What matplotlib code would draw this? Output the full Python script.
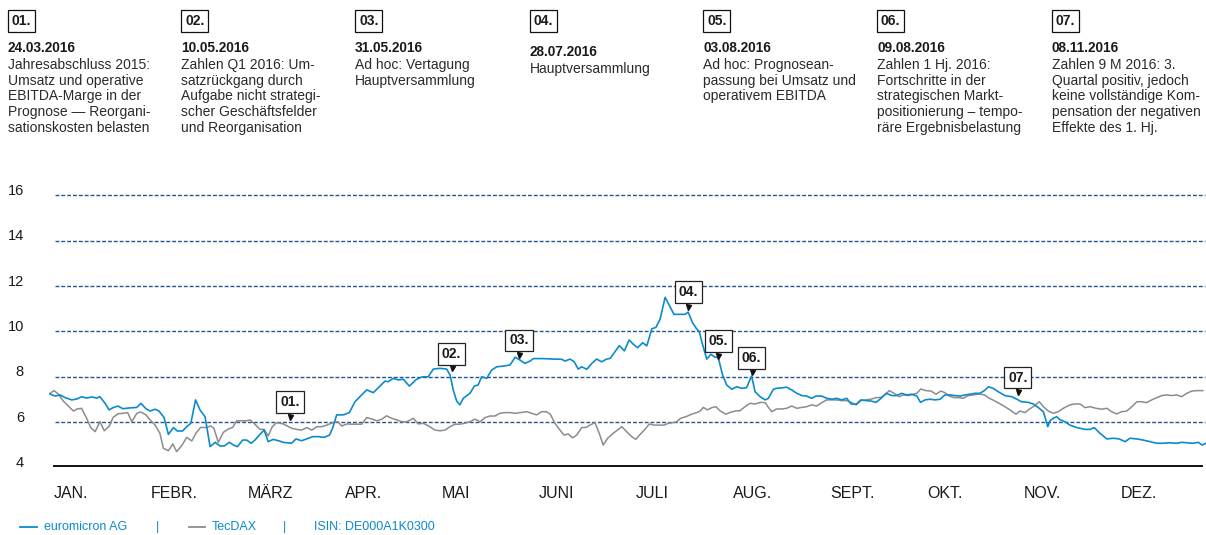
import matplotlib
matplotlib.use("Agg")
import matplotlib.pyplot as plt
import matplotlib.transforms as mtransforms
from matplotlib.lines import Line2D

plt.rcParams['font.family'] = ['Liberation Sans', 'DejaVu Sans']

# ---------------- data (x = day of year 2016, y = share price / index level) -------------
euromicron_days = [
    0.0, 1.6, 3.2, 4.8, 6.9, 8.5, 10.0, 11.6, 13.2, 14.8, 15.8, 17.4, 18.7, 20.0, 21.5, 23.1,
    24.7, 27.5, 28.8, 30.4, 31.7, 33.3, 34.5, 36.1, 37.5, 39.1, 40.3, 42.0, 43.3, 44.6, 46.1,
    47.5, 49.1, 50.7, 52.3, 53.8, 55.2, 56.8, 58.1, 59.4, 61.0, 62.3, 63.7, 64.9, 66.5, 67.8,
    69.1, 70.7, 72.6, 73.9, 76.5, 77.9, 79.7, 81.3, 83.2, 85.0, 86.9, 88.5, 89.5, 90.8, 92.9,
    94.8, 96.6, 98.7, 100.3, 102.4, 104.5, 106.1, 107.1, 108.7, 110.3, 111.9, 113.8, 116.1,
    118.0, 119.8, 121.4, 123.5, 125.6, 126.7, 127.7, 128.8, 129.8, 130.9, 133.0, 134.4, 135.6,
    136.7, 138.3, 139.9, 141.5, 143.6, 145.7, 147.3, 148.8, 150.4, 152.0, 153.1, 156.2, 159.4,
    162.1, 163.1, 164.7, 166.0, 167.3, 168.4, 170.0, 171.6, 173.1, 174.7, 176.3, 177.4, 178.9,
    180.3, 181.9, 183.4, 184.7, 186.1, 187.7, 189.0, 190.6, 191.9, 193.2, 194.8, 196.1, 197.6,
    199.5, 201.1, 202.1, 203.5, 204.8, 205.6, 206.7, 208.0, 209.3, 210.6, 211.6, 213.0, 214.3,
    215.9, 217.5, 219.1, 220.6, 222.2, 223.3, 224.9, 226.5, 227.5, 229.1, 230.1, 231.7, 233.3,
    234.9, 236.5, 238.1, 239.6, 241.2, 242.6, 244.4, 246.0, 247.6, 249.1, 250.7, 252.3, 253.7,
    255.3, 256.8, 258.4, 260.0, 261.6, 263.2, 264.8, 266.6, 268.1, 269.7, 271.3, 272.9, 274.5,
    275.7, 277.1, 278.7, 280.3, 281.9, 283.4, 285.0, 286.6, 288.2, 289.8, 291.4, 292.9, 294.5,
    295.9, 297.2, 298.7, 300.3, 302.4, 304.6, 306.2, 307.7, 309.8, 311.4, 313.0, 314.6, 316.0,
    316.7, 317.7, 318.8, 319.9, 321.4, 323.0, 325.2, 327.8, 329.4, 330.7, 332.5, 334.7, 336.7,
    338.6, 340.5, 342.0, 344.2, 346.2, 348.4, 350.5, 352.6, 354.7, 356.8, 358.4, 360.0, 362.1,
    363.7, 364.9, 366.1]
euromicron_values = [
    7.24, 7.15, 7.20, 7.08, 6.98, 7.02, 7.12, 7.06, 7.11, 7.06, 7.12, 6.84, 6.54, 6.64, 6.71, 6.59,
    6.62, 6.65, 6.83, 6.59, 6.49, 6.57, 6.49, 6.21, 5.46, 5.76, 5.61, 5.61, 5.80, 5.95, 6.98,
    6.54, 6.24, 4.92, 5.11, 4.95, 4.95, 5.11, 4.99, 4.92, 5.21, 5.21, 5.07, 5.21, 5.46, 5.65,
    5.14, 5.24, 5.17, 5.11, 5.07, 5.26, 5.18, 5.26, 5.36, 5.36, 5.33, 5.43, 5.73, 6.32, 6.32,
    6.42, 6.90, 7.20, 7.42, 7.30, 7.59, 7.81, 7.78, 7.93, 7.86, 7.89, 7.59, 7.89,
    8.00, 8.00, 8.34, 8.37, 8.34, 8.08, 7.42, 6.93, 6.76, 7.05, 7.27, 7.59, 7.64,
    8.00, 7.93, 8.30, 8.44, 8.47, 8.52, 8.86, 8.74, 8.59, 8.69, 8.80, 8.80, 8.78,
    8.77, 8.69, 8.78, 8.66, 8.34, 8.44, 8.33, 8.59, 8.78, 8.66, 8.78, 8.81, 9.10,
    9.37, 9.14, 9.62, 9.44, 9.28, 9.50, 9.36, 10.11, 10.18, 10.53, 11.50, 11.16, 10.75,
    10.75, 10.75, 10.85, 10.38, 10.11, 9.99, 9.40, 8.78, 8.99, 8.86, 8.86, 8.08, 7.64,
    7.45, 7.56, 7.49, 7.52, 8.03, 7.34, 7.12, 6.98, 7.05, 7.45, 7.49, 7.51, 7.54,
    7.42, 7.27, 7.17, 7.15, 7.05, 7.15, 7.15, 7.05, 7.01, 7.05, 6.98, 7.05, 6.80,
    6.79, 6.98, 6.95, 6.93, 6.87, 7.05, 7.27, 7.17, 7.17, 7.27, 7.20, 7.23, 7.15,
    6.87, 6.98, 7.01, 6.98, 7.01, 7.20, 7.20, 7.17, 7.15, 7.20, 7.23, 7.27, 7.27,
    7.39, 7.56, 7.49, 7.34, 7.17, 7.12, 7.01, 6.90, 6.87, 6.80, 6.64, 6.46, 5.80,
    6.06, 6.17, 6.24, 6.10, 6.02, 5.87, 5.76, 5.68, 5.68, 5.76, 5.51, 5.26, 5.29,
    5.26, 5.14, 5.29, 5.26, 5.21, 5.14, 5.07, 5.07, 5.09, 5.07, 5.11, 5.09, 5.07,
    5.11, 4.99, 5.07]

tecdax_days = [
    0.0, 1.3, 2.6, 4.2, 5.8, 7.4, 8.6, 10.0, 11.6, 12.9, 14.3, 15.8, 17.2, 18.8, 20.0, 21.6,
    23.2, 24.6, 25.9, 27.5, 28.7, 30.4, 31.7, 33.3, 34.8, 35.9, 37.5, 38.9, 40.1, 41.7, 43.3,
    44.9, 46.2, 47.7, 49.3, 50.9, 51.9, 53.3, 54.9, 56.5, 57.9, 59.1, 60.7, 62.3, 63.3, 64.9,
    66.5, 67.8, 69.1, 70.4, 71.8, 73.9, 76.5, 78.1, 79.7, 81.3, 82.9, 84.5, 86.0, 87.1, 88.5,
    89.7, 91.1, 92.4, 94.0, 95.5, 97.1, 98.7, 100.3, 101.9, 103.5, 105.1, 106.6, 108.2, 109.8,
    111.4, 113.0, 115.1, 116.6, 118.2, 119.8, 121.9, 123.5, 125.1, 126.7, 128.3, 129.8, 131.4,
    133.0, 134.6, 136.2, 137.8, 139.3, 140.9, 142.5, 144.1, 145.7, 147.3, 149.4, 151.0, 152.6,
    154.1, 155.7, 157.1, 158.4, 159.9, 161.5, 162.8, 164.1, 165.5, 166.8, 168.4, 169.8, 171.0,
    172.6, 174.0, 175.2, 176.6, 178.4, 179.7, 181.1, 182.6, 184.0, 185.5, 186.9, 188.4, 189.8,
    191.3, 193.0, 194.5, 195.8, 197.4, 198.5, 199.7, 201.4, 203.2, 204.8, 205.9, 206.9, 208.2,
    209.6, 210.9, 212.2, 214.1, 215.4, 217.3, 218.5, 220.1, 221.7, 223.3, 224.9, 226.5, 227.5,
    228.6, 230.1, 231.7, 233.3, 234.9, 236.5, 238.1, 239.6, 241.2, 242.8, 244.4, 246.0, 247.6,
    249.1, 250.7, 252.3, 253.9, 255.3, 256.8, 258.4, 260.0, 261.6, 263.2, 264.4, 265.8, 267.3,
    269.0, 270.2, 271.8, 273.4, 274.5, 275.8, 277.4, 279.0, 280.6, 282.1, 283.4, 284.8, 286.3,
    287.9, 289.2, 290.8, 292.4, 294.3, 295.9, 297.5, 299.0, 300.6, 302.4, 304.0, 305.9, 307.2,
    308.8, 310.1, 311.7, 313.3, 314.6, 316.2, 317.7, 319.3, 320.9, 323.0, 324.6, 326.2, 327.8,
    329.4, 331.3, 333.1, 334.7, 336.2, 337.8, 339.4, 341.0, 342.6, 344.2, 345.7, 347.3, 348.9,
    350.5, 352.1, 353.7, 355.2, 356.8, 358.4, 360.0, 361.6, 363.2, 365.1]
tecdax_values = [
    7.27, 7.39, 7.24, 6.93, 6.71, 6.49, 6.58, 6.61, 6.17, 5.76, 5.58, 6.02, 5.62, 5.83, 6.21, 6.37,
    6.39, 6.42, 6.02, 6.39, 6.45, 6.32, 6.10, 5.87, 5.51, 4.85, 4.74, 5.04, 4.70, 4.96, 5.33,
    5.17, 5.51, 5.77, 5.76, 5.83, 5.73, 5.11, 5.55, 5.70, 5.77, 6.06, 6.06, 6.06, 6.10, 5.91,
    5.68, 5.68, 5.39, 5.80, 5.98, 5.92, 5.73, 5.68, 5.65, 5.76, 5.65, 5.80, 5.80, 5.84, 5.92,
    5.98, 6.02, 5.83, 5.92, 5.91, 5.91, 5.91, 6.20, 6.14, 6.06, 6.13, 6.28, 6.17, 6.10,
    6.02, 6.02, 6.17, 5.92, 5.95, 5.84, 5.65, 5.62, 5.65, 5.80, 5.91, 5.91, 5.95,
    6.02, 6.13, 6.02, 6.20, 6.27, 6.27, 6.39, 6.42, 6.42, 6.39, 6.43, 6.46, 6.39,
    6.32, 6.46, 6.46, 6.36, 5.95, 5.65, 5.43, 5.48, 5.31, 5.43, 5.76, 5.77, 5.87,
    5.98, 5.48, 4.99, 5.29, 5.51, 5.65, 5.80, 5.58, 5.39, 5.24, 5.46, 5.68, 5.92,
    5.87, 5.87, 5.87, 5.95, 5.98, 6.02, 6.17, 6.24, 6.35, 6.42, 6.49, 6.65, 6.54,
    6.64, 6.68, 6.50, 6.35, 6.43, 6.50, 6.50, 6.68, 6.83, 6.80, 6.87, 6.86, 6.65,
    6.46, 6.58, 6.58, 6.61, 6.71, 6.61, 6.65, 6.68, 6.76, 6.71, 6.86, 6.98, 6.98,
    6.98, 6.95, 6.95, 6.86, 6.76, 6.95, 6.98, 7.01, 7.08, 7.09, 7.20, 7.39, 7.27,
    7.12, 7.20, 7.17, 7.23, 7.27, 7.46, 7.39, 7.37, 7.23, 7.37, 7.30, 7.15, 7.08,
    7.08, 7.05, 7.17, 7.20, 7.24, 7.20, 7.05, 6.95, 6.83, 6.68, 6.54, 6.35, 6.49,
    6.42, 6.57, 6.71, 6.90, 6.68, 6.49, 6.39, 6.46, 6.61, 6.76, 6.80, 6.80, 6.64,
    6.68, 6.61, 6.57, 6.61, 6.46, 6.36, 6.46, 6.49, 6.68, 6.90, 6.90, 6.86, 6.98,
    7.08, 7.17, 7.20, 7.17, 7.20, 7.12, 7.27, 7.37, 7.39, 7.39]

series_names = ["euromicron AG", "TecDAX"]
isin_text = "ISIN: DE000A1K0300"

months = ["JAN.", "FEBR.", "MÄRZ", "APR.", "MAI", "JUNI", "JULI", "AUG.", "SEPT.", "OKT.",
          "NOV.", "DEZ."]
y_ticks = [4, 6, 8, 10, 12, 14, 16]
grid_levels = [6, 8, 10, 12, 14, 16]

event_labels = ["01.", "02.", "03.", "04.", "05.", "06.", "07."]
event_dates = ["24.03.2016", "10.05.2016", "31.05.2016", "28.07.2016", "03.08.2016",
               "09.08.2016", "08.11.2016"]
event_texts = [
    ["Jahresabschluss 2015:", "Umsatz und operative", "EBITDA-Marge in der",
     "Prognose \u2014 Reorgani-", "sationskosten belasten"],
    ["Zahlen Q1 2016: Um-", "satzrückgang durch", "Aufgabe nicht strategi-",
     "scher Geschäftsfelder", "und Reorganisation"],
    ["Ad hoc: Vertagung", "Hauptversammlung"],
    ["Hauptversammlung"],
    ["Ad hoc: Prognosean-", "passung bei Umsatz und", "operativem EBITDA"],
    ["Zahlen 1 Hj. 2016:", "Fortschritte in der", "strategischen Markt-",
     "positionierung \u2013 tempo-", "räre Ergebnisbelastung"],
    ["Zahlen 9 M 2016: 3.", "Quartal positiv, jedoch", "keine vollständige Kom-",
     "pensation der negativen", "Effekte des 1. Hj."],
]
event_chart_days = [76.0, 127.2, 148.5, 202.1, 211.6, 222.2, 306.5]
event_chart_values = [6.24, 8.37, 8.96, 11.09, 8.93, 8.20, 7.32]

# ---------------- style ----------------
BLUE = '#0b8bcc'
GREY = '#8c8c8c'
GRID = '#23578c'
TXT = '#1a1a1a'

W, H = 1206, 535
fig = plt.figure(figsize=(W / 100, H / 100), dpi=100)


def fx(px):
    return px / W


def fy(py):
    return 1 - py / H


ax = fig.add_axes([fx(50), fy(465.7), 1156 / W, (465.7 - 177.1) / H])
ax.set_xlim(0, 366.1)
ax.set_ylim(4.08, 16.8)
for s in ['top', 'right', 'left']:
    ax.spines[s].set_visible(False)
ax.spines['bottom'].set_bounds(1.3, 364.8)
ax.spines['bottom'].set_linewidth(1.4)
ax.spines['bottom'].set_color('#111111')
ax.set_xticks([])
ax.set_yticks([])

ax.hlines(grid_levels, 1.6, 365.8, colors=GRID, linewidth=1.0,
          linestyles=(0, (2.8, 1.4)))

ax.plot(tecdax_days, tecdax_values, color=GREY, lw=1.1, clip_on=False, zorder=3)
ax.plot(euromicron_days, euromicron_values, color=BLUE, lw=1.2, clip_on=False, zorder=4)

# y labels
ytrans = mtransforms.blended_transform_factory(fig.transFigure, ax.transData) + \
    mtransforms.ScaledTranslation(0, 4.4 / 100, fig.dpi_scale_trans)
for v in y_ticks:
    ax.text(fx(24), v, str(v), transform=ytrans, ha='right', va='center',
            fontsize=10.5, color=TXT)

# month labels
month_slot = 30.72
xtrans = mtransforms.blended_transform_factory(ax.transData, fig.transFigure) + \
    mtransforms.ScaledTranslation(4 / 100, 0, fig.dpi_scale_trans)
for k, m in enumerate(months):
    ax.text(k * month_slot, fy(493), m, transform=xtrans, ha='left', va='center',
            fontsize=11.5, color=TXT)

# event markers on chart
for lab, d, v in zip(event_labels, event_chart_days, event_chart_values):
    ax.plot([d], [v], marker='v', ms=3.6, color='#111111', zorder=6, clip_on=False)
    ax.annotate(lab, (d, v), xytext=(0, 10.5), textcoords='offset points',
                ha='center', va='center', fontsize=10, fontweight='bold', color=TXT,
                bbox=dict(boxstyle='square,pad=0.28', fc='white', ec='#222222', lw=0.9),
                zorder=7)

# header columns
col_x = [8, 181, 355, 530, 703, 877, 1052]
col_dy = [0, 0, 0, 4.5, 0, 0, 0]
for i, lab in enumerate(event_labels):
    x0 = col_x[i]
    fig.text(fx(x0 + 4.0), fy(21), lab, ha='left', va='center', fontsize=10,
             fontweight='bold', color=TXT,
             bbox=dict(boxstyle='square,pad=0.28', fc='white', ec='#111111', lw=0.9))
    fig.text(fx(x0), fy(47.5 + col_dy[i]), event_dates[i], ha='left', va='center',
             fontsize=9.8, fontweight='bold', color=TXT)
    for j, line in enumerate(event_texts[i]):
        fig.text(fx(x0), fy(64.8 + col_dy[i] + j * 15.8), line, ha='left', va='center',
                 fontsize=10, color='#2a2a2a')

# legend row
ly = fy(527)
fig.add_artist(Line2D([fx(20), fx(37)], [ly, ly], color=BLUE, lw=1.3))
fig.text(fx(44), ly, series_names[0], ha='left', va='center', fontsize=9, color=BLUE)
fig.text(fx(158), ly, '|', ha='center', va='center', fontsize=9, color=BLUE)
fig.add_artist(Line2D([fx(189), fx(205)], [ly, ly], color=GREY, lw=1.3))
fig.text(fx(212), ly, series_names[1], ha='left', va='center', fontsize=9, color=BLUE)
fig.text(fx(285), ly, '|', ha='center', va='center', fontsize=9, color=BLUE)
fig.text(fx(314), ly, isin_text, ha='left', va='center', fontsize=9, color=BLUE)

fig.savefig('out.png', dpi=100)
